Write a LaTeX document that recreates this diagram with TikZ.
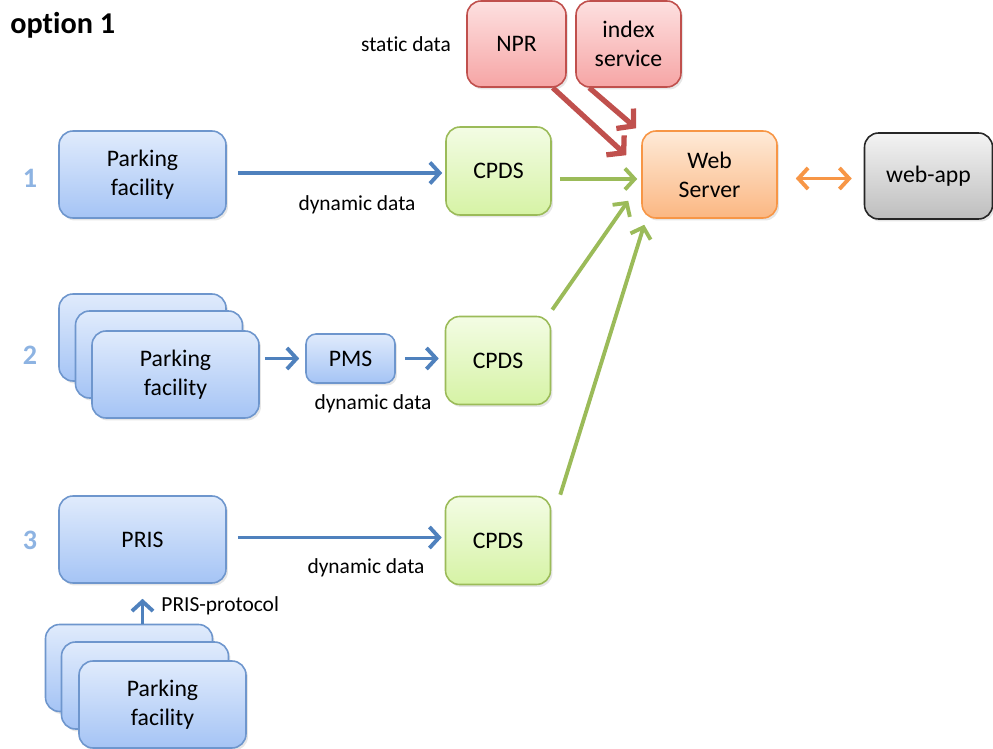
\documentclass[tikz,border=0pt]{standalone}
\usepackage{fontspec}
\setmainfont[Ligatures={NoCommon}]{Carlito}
\usepackage{tikz}
\usetikzlibrary{arrows.meta,positioning,calc,shadows}

\definecolor{pfblue}{RGB}{110,150,205}
\definecolor{pftop}{RGB}{224,235,252}
\definecolor{pfbot}{RGB}{165,196,245}
\definecolor{cpdsline}{RGB}{155,187,89}
\definecolor{cpdstop}{RGB}{243,252,228}
\definecolor{cpdsbot}{RGB}{214,243,165}
\definecolor{srcline}{RGB}{192,80,77}
\definecolor{srctop}{RGB}{253,224,224}
\definecolor{srcbot}{RGB}{246,165,165}
\definecolor{webline}{RGB}{247,150,70}
\definecolor{webtop}{RGB}{254,234,216}
\definecolor{webbot}{RGB}{251,183,130}
\definecolor{apptop}{RGB}{243,243,243}
\definecolor{appbot}{RGB}{190,190,190}
\definecolor{arrowblue}{RGB}{79,129,189}
\definecolor{numblue}{RGB}{141,179,226}

\tikzset{
  box/.style={draw, rounded corners=0.28cm, align=center, inner sep=2pt, line width=0.9pt,
    font=\fontsize{13.5}{16.5}\selectfont,
    drop shadow={opacity=0.2, shadow xshift=0.04cm, shadow yshift=-0.05cm}},
  pfbox/.style={box, draw=pfblue, top color=pftop, bottom color=pfbot,
    minimum width=3.34cm, minimum height=1.74cm},
  pmsbox/.style={box, draw=pfblue, top color=pftop, bottom color=pfbot,
    minimum width=1.78cm, minimum height=0.98cm, rounded corners=0.2cm},
  cpdsbox/.style={box, draw=cpdsline, top color=cpdstop, bottom color=cpdsbot,
    minimum width=2.1cm, minimum height=1.76cm},
  srcbox/.style={box, draw=srcline, top color=srctop, bottom color=srcbot,
    minimum height=1.72cm},
  webbox/.style={box, draw=webline, top color=webtop, bottom color=webbot,
    minimum width=2.7cm, minimum height=1.74cm},
  appbox/.style={box, draw=black!85, top color=apptop, bottom color=appbot,
    minimum width=2.56cm, minimum height=1.72cm},
  lbl/.style={font=\fontsize{12.2}{14}\selectfont, inner sep=0pt},
  num/.style={font=\fontsize{16}{18}\selectfont\bfseries, text=numblue, inner sep=0pt},
  barrow/.style={draw=arrowblue, line width=2.2pt, -{Straight Barb[length=5.5pt,width=12pt]}},
  garrow/.style={draw=cpdsline, line width=2.2pt, -{Straight Barb[length=5.5pt,width=12pt]}},
  rarrow/.style={draw=srcline, line width=3pt, -{Straight Barb[length=6.5pt,width=15pt]}},
  oarrow/.style={draw=webline, line width=2.2pt, {Straight Barb[length=5.5pt,width=12pt]}-{Straight Barb[length=5.5pt,width=12pt]}}
}

\begin{document}
\begin{tikzpicture}[x=0.02cm, y=-0.02cm]
        \useasboundingbox (0,0) rectangle (993,749);

        \node[anchor=west, inner sep=0pt, font=\fontsize{17.2}{20}\selectfont\bfseries] (title) at (10,25) {option 1};

        % sources and web server
        \node[srcbox, minimum width=1.98cm] (npr) at (516.5,44) {NPR};
        \node[srcbox, minimum width=2.1cm] (index) at (628.5,44) {index\\service};
        \node[lbl] (static) at (406,44) {static data};
        \node[webbox] (web) at (709.5,174.5) {Web\\Server};
        \node[appbox] (webapp) at (928.5,176) {web-app};

        % option rows
        \node[num] (n1) at (30,178) {1};
        \node[num] (n2) at (30,355) {2};
        \node[num] (n3) at (30,540) {3};

        \node[pfbox] (pf1) at (142.5,174.5) {Parking\\facility};
        \node[cpdsbox] (cpds1) at (498.5,171) {CPDS};

        \node[pfbox] (pf2a) at (142.5,337.5) {};
        \node[pfbox] (pf2b) at (159,354.5) {};
        \node[pfbox] (pf2c) at (175.5,374.5) {Parking\\facility};
        \node[pmsbox] (pms) at (350.5,358.5) {PMS};
        \node[cpdsbox] (cpds2) at (498,360.5) {CPDS};

        \node[pfbox] (pris) at (142.5,539.5) {PRIS};
        \node[cpdsbox] (cpds3) at (498,540.5) {CPDS};
        \node[pfbox] (pf3a) at (129,668) {};
        \node[pfbox] (pf3b) at (145,685.5) {};
        \node[pfbox] (pf3c) at (162.5,704.5) {Parking\\facility};

        \node[lbl] (dyn1) at (357,205) {dynamic data};
        \node[lbl] (dyn2) at (373,404) {dynamic data};
        \node[lbl] (dyn3) at (366,568) {dynamic data};

        % dynamic data flows
        \draw[barrow, shorten <=0.22cm, shorten >=0.06cm] ([yshift=0.03cm]pf1.east) -- ([yshift=0.03cm]pf1.east -| cpds1.west);
        \draw[barrow, shorten <=0.1cm, shorten >=0.12cm] (pms.west -| pf2c.east) -- (pms.west);
        \draw[barrow, shorten <=0.18cm, shorten >=0.12cm] (pms.east) -- (pms.east -| cpds2.west);
        \draw[barrow, shorten <=0.22cm, shorten >=0.06cm] ([yshift=0.04cm]pris.east) -- ([yshift=0.04cm]pris.east -| cpds3.west);
        \draw[barrow, shorten >=0.3cm] (pris.south |- pf3a.north) -- (pris.south)
          node[lbl, pos=0.45, right=0.34cm] (proto) {PRIS-protocol};

        % into the web server
        \draw[garrow, shorten <=0.16cm, shorten >=0.08cm] ([yshift=-0.16cm]cpds1.east) -- ([yshift=-0.16cm]cpds1.east -| web.west);
        \draw[garrow] ([shift={(0.02cm,0.12cm)}]cpds2.north east) -- ([shift={(-0.26cm,0.36cm)}]web.south west);
        \draw[garrow] ([shift={(0.18cm,0.02cm)}]cpds3.north east) -- ([shift={(0.06cm,-0.12cm)}]web.south west);
        \draw[rarrow] ([xshift=-0.28cm]npr.south east) -- ([shift={(-0.3cm,-0.5cm)}]web.north west);
        \draw[rarrow] ([xshift=0.28cm]index.south west) -- ([shift={(-0.1cm,0.04cm)}]web.north west);
        \draw[oarrow, shorten <=0.36cm, shorten >=0.24cm] ([yshift=-0.08cm]web.east) -- ([yshift=-0.08cm]web.east -| webapp.west);
      \end{tikzpicture}
\end{document}
